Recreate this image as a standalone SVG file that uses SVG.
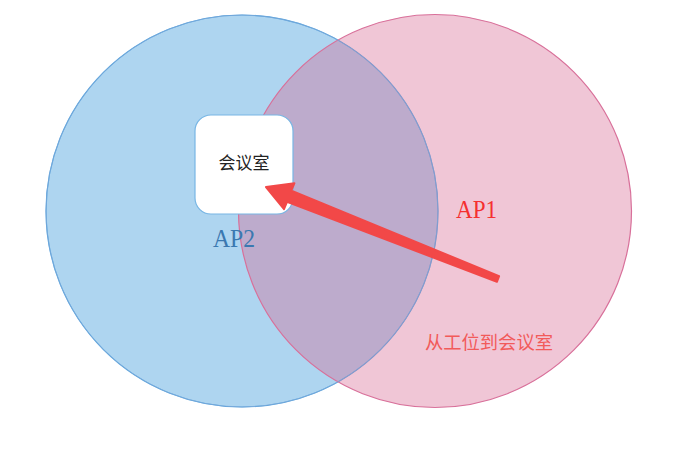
<svg xmlns="http://www.w3.org/2000/svg" width="693" height="454" viewBox="0 0 693 454">
<style>
.lbl{font-family:"Liberation Serif","Noto Sans CJK SC",serif;}
.cjk{font-family:"Noto Sans CJK SC","Liberation Sans",sans-serif;}
</style>
<rect width="693" height="454" fill="#ffffff"/>
<g id="ap2">
<circle cx="242" cy="211" r="196" fill="#aed5f0" stroke="#5aa6de" stroke-width="1.2"/>
</g>
<g id="ap1">
<circle cx="435" cy="211" r="196.5" fill="rgb(214,101,144)" fill-opacity="0.37" stroke="#d8709a" stroke-width="1.2"/>
<circle cx="242" cy="211" r="196" fill="none" stroke="#7aa6d8" stroke-opacity="0.7" stroke-width="1"/>
</g>
<g id="meeting-room">
<rect x="195" y="115" width="98" height="99" rx="16" ry="16" fill="#ffffff" stroke="#78b6e4" stroke-width="1.2"/>
<text class="cjk" x="244" y="169" font-size="17" text-anchor="middle" fill="#222222">会议室</text>
</g>
<g id="labels">
<text class="lbl" x="213" y="247" font-size="26" textLength="42" lengthAdjust="spacingAndGlyphs" fill="#3a78b0">AP2</text>
<text class="lbl" x="456" y="218" font-size="26" textLength="41" lengthAdjust="spacingAndGlyphs" fill="#f53030">AP1</text>
<text class="cjk" x="425" y="349" font-size="18.3" fill="#f25a5a">从工位到会议室</text>
</g>
<g id="connectors">
<polygon points="266,187 294.4,183.2 291.4,190.6 499.1,276.2 496.9,281.8 287,201.8 284,209.2" fill="#f24848" stroke="#f24848" stroke-width="2" stroke-linejoin="round"/>
</g>
</svg>
